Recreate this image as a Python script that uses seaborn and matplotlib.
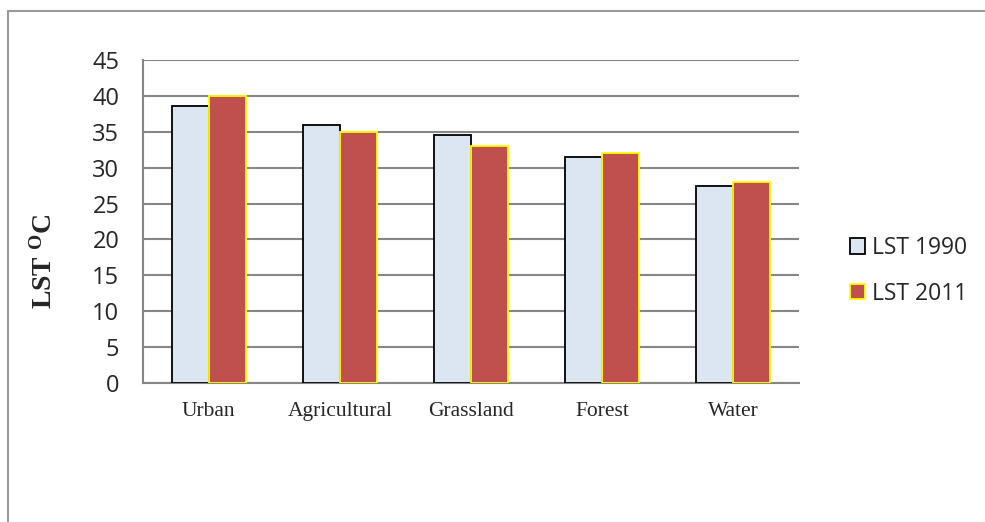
import matplotlib
matplotlib.use("Agg")
import matplotlib.pyplot as plt
from matplotlib.patches import Patch
from matplotlib.lines import Line2D
import pandas as pd
import seaborn as sns

categories = ["Urban", "Agricultural", "Grassland", "Forest", "Water"]
lst_1990 = [38.6, 36.0, 34.5, 31.5, 27.4]
lst_2011 = [40.0, 35.0, 33.0, 32.0, 28.0]
series = ["LST 1990", "LST 2011"]
y_ticks = [0, 5, 10, 15, 20, 25, 30, 35, 40, 45]

fills = ["#DCE6F2", "#C0504D"]
edges = ["#000000", "#FFFF00"]
grid_col = "#868686"

df = pd.DataFrame({
    "category": categories * 2,
    "series": [series[0]] * len(categories) + [series[1]] * len(categories),
    "value": lst_1990 + lst_2011,
})

sns.set_style("white")
plt.rcParams["mathtext.fontset"] = "custom"
plt.rcParams["mathtext.rm"] = "Liberation Serif"
plt.rcParams["mathtext.bf"] = "Liberation Serif:bold"

fig = plt.figure(figsize=(9.85, 5.22), dpi=100)
ax = fig.add_axes([143 / 985, 1 - 383 / 522, 656 / 985, 323 / 522])

sns.barplot(data=df, x="category", y="value", hue="series", order=categories,
            hue_order=series, palette=fills, width=0.565, gap=0, ax=ax,
            legend=False, errorbar=None, saturation=1)

for cont, ec in zip(ax.containers, edges):
    for bar in cont:
        bar.set_edgecolor(ec)
        bar.set_linewidth(1.3)
        bar.set_zorder(3)

# chart frame (only top and left edges visible, the rest is cropped)
fy = 1 - 11 / 522
fx = 8 / 985
fig.lines.append(Line2D([fx, 1], [fy, fy], transform=fig.transFigure,
                        color="#9a9a9a", linewidth=1.5))
fig.lines.append(Line2D([fx, fx], [0, fy], transform=fig.transFigure,
                        color="#9a9a9a", linewidth=1.5))

ax.set_ylim(0, 45)
ax.set_xlim(-0.5, len(categories) - 0.5)
ax.set_yticks(y_ticks)
ax.yaxis.grid(True, color=grid_col, linewidth=1.5, zorder=0)
ax.set_axisbelow(True)
for s in ["top", "right"]:
    ax.spines[s].set_visible(False)
for s in ["left", "bottom"]:
    ax.spines[s].set_color(grid_col)
    ax.spines[s].set_linewidth(1.5)

ax.tick_params(axis="y", which="major", direction="out", length=6,
               width=1.5, color=grid_col, pad=11, labelsize=17)
for lab in ax.get_yticklabels():
    lab.set_fontfamily("Open Sans")

ax.set_xticks([i - 0.5 for i in range(len(categories) + 1)])
ax.set_xticklabels([])
ax.set_xticks(range(len(categories)), minor=True)
ax.set_xticklabels(categories, minor=True, fontfamily="Liberation Serif", fontsize=15.5)
ax.tick_params(axis="x", which="major", direction="out", length=6, width=1.5,
               color=grid_col)
ax.tick_params(axis="x", which="minor", length=0, pad=14)

ax.set_xlabel("")
ax.set_ylabel(r"LST $\mathbf{^{O}}$C", fontfamily="Liberation Serif",
              fontweight="bold", fontsize=20)
ax.yaxis.set_label_coords(-0.13, 0.378)

handles = [Patch(facecolor=f, edgecolor=e, linewidth=1.3, label=s)
           for f, e, s in zip(fills, edges, series)]
fig.legend(handles=handles, loc="center left",
           bbox_to_anchor=(850 / 985, 1 - 271 / 522), frameon=False,
           prop={"family": "Open Sans", "size": 16.5}, handlelength=0.65,
           handleheight=0.65, handletextpad=0.3, labelspacing=0.95,
           borderpad=0, borderaxespad=0)

fig.savefig("out.png", dpi=100)
